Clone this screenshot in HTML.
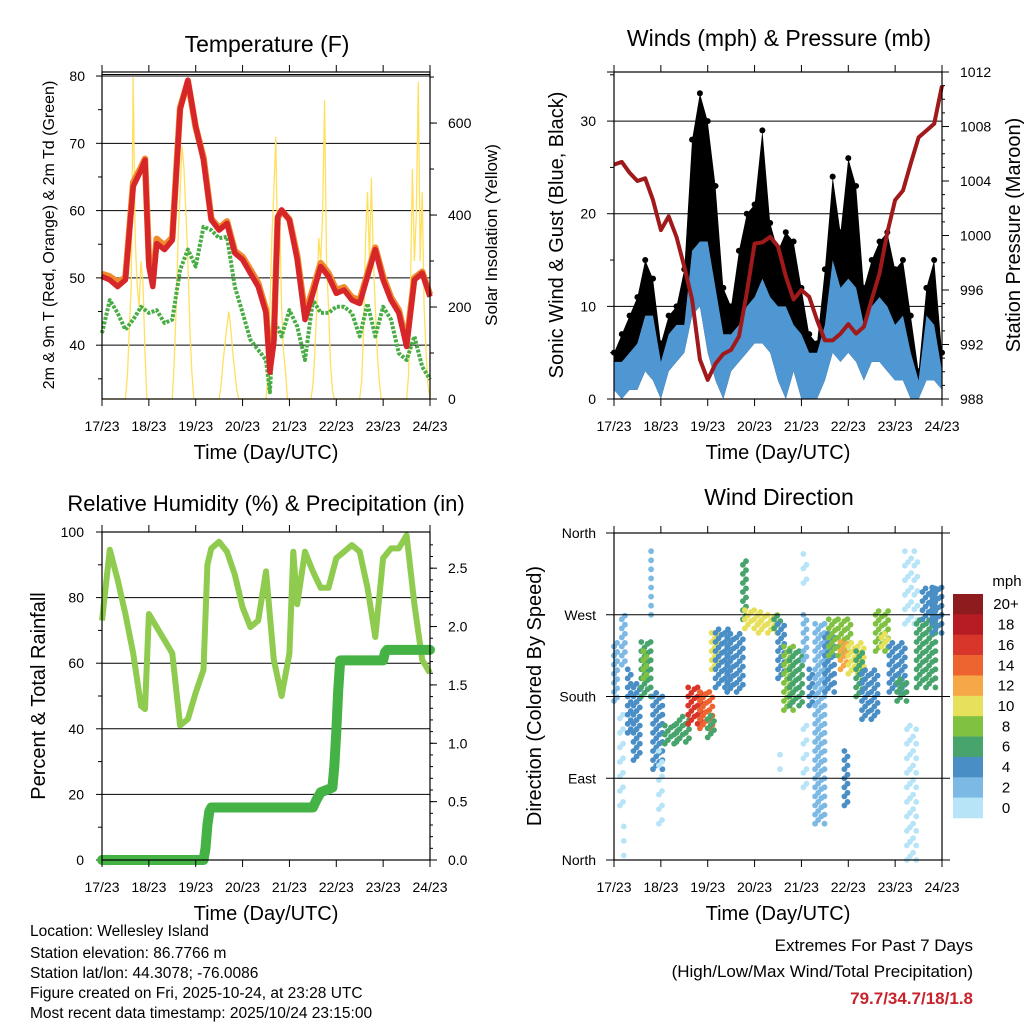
<!DOCTYPE html>
<html><head><meta charset="utf-8"><title>Wellesley Island Meteogram</title>
<style>
html,body{margin:0;padding:0;background:#fff;}
svg{display:block;font-family:"Liberation Sans",Arial,sans-serif;}
</style></head>
<body>
<svg id="chart" width="1024" height="1024" viewBox="0 0 1024 1024" xmlns="http://www.w3.org/2000/svg">
<rect x="0" y="0" width="1024" height="1024" fill="#fff"/>
<g id="g1"></g>
<g id="g2"></g>
<g id="g3"></g>
<g id="g4"></g>
<g font-size="15.5" fill="#000">
<text x="30" y="936">Location: Wellesley Island</text>
<text x="30" y="958">Station elevation: 86.7766 m</text>
<text x="30" y="978">Station lat/lon: 44.3078; -76.0086</text>
<text x="30" y="998">Figure created on Fri, 2025-10-24, at 23:28 UTC</text>
<text x="30" y="1018">Most recent data timestamp: 2025/10/24 23:15:00</text>
</g>
<g font-size="17" text-anchor="end">
<text x="973" y="951">Extremes For Past 7 Days</text>
<text x="973" y="977">(High/Low/Max Wind/Total Precipitation)</text>
<text x="973" y="1004" fill="#c8232c" font-weight="bold">79.7/34.7/18/1.8</text>
</g>
</svg>
<script>
// ---------- data ----------
const dayLabels = ["17/23","18/23","19/23","20/23","21/23","22/23","23/23","24/23"];
const tempHours = [0,4,8,12,16,20,22,24,26,28,32,36,40,44,48,52,56,60,64,68,72,76,80,84,86,88,90,92,96,100,104,108,112,116,120,124,128,132,136,140,144,148,152,156,160,164,168];
const temp2m = [50.2,49.7,48.7,49.7,63.6,66,67.5,51.7,48.7,55.1,54.2,55.6,75,79.4,72.5,67.5,58.6,57.1,58.1,53.7,52.7,50.7,48.7,44.8,36,40.3,59.1,60.1,58.6,52.7,43.8,47.7,51.7,50.2,47.7,48.2,46.7,46.2,50.2,54.2,49.7,46.7,44.8,39.8,49.7,50.7,47.2];
const temp9m = [50.6,50.2,49.4,50.0,64.2,66.4,67.7,52.6,49.4,55.8,54.8,56.0,75.3,79.2,72.4,67.9,58.8,57.4,58.4,54.0,53.1,51.2,49.2,45.3,37,41.0,58.9,60.0,58.7,53.3,44.6,48.3,52.2,50.7,48.2,48.6,47.1,46.7,50.6,54.5,50.2,47.1,45.2,40.4,50.0,50.9,47.5];
const dewHours = [0,4,8,12,16,20,24,28,32,36,40,44,48,52,56,60,64,68,72,76,80,84,86,88,92,96,100,104,108,112,116,120,124,128,132,136,140,144,148,152,156,160,164,168];
const dewValues = [41.8,46.7,44.8,42.3,43.8,45.7,44.8,45.2,43.3,43.8,51.2,54.2,51.7,57.6,57.1,55.9,56.1,48.7,44.8,40.8,39.3,37.8,33,43.8,41.3,45.2,42.8,37.8,46.7,44.8,44.8,45.7,45.7,44.8,41.3,46.2,41.3,45.7,43.8,38.8,37.8,41.3,36.8,34.9];
const solarHours = [0,12,13,14,15,16,17,18,19,20,21,22,23,36,37,38,39,40,41,42,43,44,45,46,47,60,61,62,63,64,65,66,67,68,69,70,84,85,86,87,88,89,90,91,92,93,94,95,107,108,109,110,111,112,113,114,115,116,117,118,119,132,133,134,135,136,137,138,139,140,141,142,143,156,157,158,159,160,161,162,163,164,165,166,167,168];
const solarValues = [0,0,50,150,250,700,350,250,200,300,250,100,0,0,80,200,350,450,550,500,400,300,150,60,0,0,30,80,120,160,190,150,100,60,20,0,0,50,200,350,450,570,300,400,200,100,60,0,0,30,100,200,350,300,400,650,300,200,80,20,0,0,40,150,350,450,300,480,300,200,100,40,0,0,50,250,500,300,400,690,300,450,200,100,30,0];

const windHours = [0,4,8,12,16,20,24,28,32,36,40,44,48,52,56,60,64,68,72,76,80,84,88,92,96,100,104,108,112,116,120,124,128,132,136,140,144,148,152,156,160,164,168];
const windLow = [1,0,1,1,3,2,0,3,4,5,9,10,5,2,0,3,4,5,6,6,5,2,0,3,0,0,0,2,5,4,5,4,2,4,4,3,2,2,0,0,2,2,1];
const windHigh = [4,4,5,6,9,9,4,7,8,8,16,17,17,12,7,7,8,10,11,13,11,10,10,8,7,5,5,8,15,12,13,12,8,10,11,10,8,9,5,2,9,8,3];
const gustHigh = [5,7,9,11,15,13,6,9,10,14,28,33,30,23,12,10,16,20,21,29,19,16,18,17,12,7,6,14,24,18,26,23,12,15,17,18,14,15,9,3,12,15,5];
const pressureValues = [1005.2,1005.4,1004.6,1004,1004.2,1002.6,1000.4,1001.4,999.9,997.7,995.3,990.9,989.4,990.6,991.3,991.6,992.6,995.8,999.4,999.5,999.9,999.2,997,995.3,996,995.5,993.8,992.3,992.3,992.8,993.5,992.8,993.3,995.3,997.2,1000.2,1002.6,1003.3,1005.3,1007.2,1007.7,1008.2,1011];

const rhHours = [0,4,8,12,16,20,22,24,28,32,36,40,44,48,52,54,56,60,64,68,72,76,80,84,88,92,96,98,100,104,108,112,116,120,124,128,132,136,140,144,148,152,156,160,164,168];
const rhValues = [73,94.6,85.5,75,63,47,46,75,71,67,63,41,43,51,58,90,95,97,94,87,77,71,73,88,61,50,63,94,78,94,88,83,83,92,94,96,94,83,68,92,95,95,99,78,61,57];
const rainHours = [0,52,53,54,55,56,108,110,112,118,119,120,121,122,144,145,146,168];
const rainValues = [0,0,0.1,0.3,0.42,0.45,0.45,0.52,0.58,0.62,0.8,1.1,1.45,1.71,1.71,1.78,1.8,1.8];

// wind direction clusters: start hour, end hour, low dir, high dir, speed
const dirStart = [0,0,3,4,5,7,10,14,15,19,20,23,26,32,38,44,48,50,52,58,66,67,74,82,84,85,87,90,97,97,97,100,103,103,108,110,116,118,120,124,127,134,137,141,145,149,150,155,158,163];
const dirEnd   = [3,3,6,6,6,10,14,20,18,20,26,26,33,40,45,52,52,54,60,66,68,76,84,86,88,86,92,97,100,100,100,103,108,108,113,122,120,121,128,128,135,141,141,150,150,156,156,165,165,168];
const dirLow   = [175,195,60,215,5,140,110,180,200,270,100,40,128,130,150,145,135,210,190,185,265,255,250,255,200,100,165,170,305,220,80,170,40,200,185,225,210,60,205,180,155,230,235,185,175,260,0,190,265,250];
const dirHigh  = [235,240,160,270,50,210,195,240,230,340,185,120,150,158,190,185,160,250,255,250,330,275,270,272,260,130,235,230,340,270,150,210,200,260,250,265,240,120,240,230,210,275,250,240,200,340,150,265,300,300];
const dirSpeed = [3,2,1,2,0,4,4,7,8,2,4,1,6,7,16,14,6,11,4,5,6,10,10,7,4,1,8,6,0,2,1,4,2,3,5,8,13,4,11,7,5,9,10,5,6,1,1,7,5,4];
const speedBins = ["20+","18","16","14","12","10","8","6","4","2","0"];
const binColors = ["#8e1b1e","#b71c24","#d9362b","#ee6431","#f6a849","#e7e05a","#80c142","#47a46d","#4a8ec6","#7cb9e4","#b8e4f8"];

// ---------- helpers ----------
const NS = "http://www.w3.org/2000/svg";
function mk(tag, attrs, parent){
  const e = document.createElementNS(NS, tag);
  for (const k in attrs) e.setAttribute(k, attrs[k]);
  parent.appendChild(e);
  return e;
}
function linear(d0,d1,r0,r1){ return v => r0 + (v-d0)*(r1-r0)/(d1-d0); }
function pathFrom(xs, ys, sx, sy){
  return xs.map((h,i)=>(i?"L":"M")+sx(h).toFixed(1)+","+sy(ys[i]).toFixed(1)).join(" ");
}

function frame(g, x0, x1, yT, yB){
  const r = mk("rect",{x:x0,y:yT,width:x1-x0,height:yB-yT,fill:"none",stroke:"#000","stroke-width":1.2},g);
  
  
  const sx = linear(0,168,x0,x1);
  dayLabels.forEach((lab,i)=>{
    const x = sx(i*24);
    const t1 = mk("line",{x1:x,x2:x,y1:yT-7,y2:yT,stroke:"#000","stroke-width":1},g);
    
    
    const t2 = mk("line",{x1:x,x2:x,y1:yB,y2:yB+7,stroke:"#000","stroke-width":1},g);
    
    
    const t = mk("text",{x:x,y:yB+32,"font-size":14,"text-anchor":"middle"},g);
    t.textContent = lab;
    
    
  });
  const xt = mk("text",{x:(x0+x1)/2,y:yB+60,"font-size":20,"text-anchor":"middle"},g);
  xt.textContent = "Time (Day/UTC)";
  
  
  return sx;
}
function title(g, x, y, txt, size){
  const t = mk("text",{x:x,y:y,"font-size":size,"text-anchor":"middle"},g);
  t.textContent = txt;
  
  
}
function vtitle(g, x, y, txt, size){
  const t = mk("text",{x:x,y:y,"font-size":size,"text-anchor":"middle",transform:"rotate(-90 "+x+" "+y+")"},g);
  t.textContent = txt;
  
  
}
function grid(g, x0, x1, y){
  const l = mk("line",{x1:x0,x2:x1,y1:y,y2:y,stroke:"#000","stroke-width":1},g);
  
  
}
function yLabel(g, x, y, txt, anchor){
  const t = mk("text",{x:x,y:y+5,"font-size":14,"text-anchor":anchor},g);
  t.textContent = txt;
  
  
}
function tick(g, x, y, len){
  const l = mk("line",{x1:x,x2:x+len,y1:y,y2:y,stroke:"#000","stroke-width":1},g);
  
  
}

// ---------- panel 1: temperature ----------
(function(){
  const g = document.getElementById("g1");
  const x0=102,x1=430,yT=72,yB=399;
  const sy = linear(32,80.6,yB,yT);
  const ss = linear(0,711,yB,yT);
  const sx = linear(0,168,x0,x1);
  [40,50,60,70,80].forEach(v=>{grid(g,x0,x1,sy(v)); yLabel(g,85,sy(v),String(v),"end"); tick(g,x0-6,sy(v),6);});
  [35,45,55,65,75].forEach(v=>tick(g,x0-4,sy(v),4));
  grid(g,x0,x1,74.5);
  [0,200,400,600].forEach(v=>{yLabel(g,448,ss(v),String(v),"start"); tick(g,x1,ss(v),7);});
  for(let v=100; v<=700; v+=100) tick(g,x1,ss(v),4);
  const sol = mk("path",{d:pathFrom(solarHours,solarValues,sx,ss),fill:"none",stroke:"#ffe05e","stroke-width":1.3},g);
  
  
  const dw = mk("path",{d:pathFrom(dewHours,dewValues,sx,sy),fill:"none",stroke:"#47ad44","stroke-width":4,"stroke-dasharray":"3 1.5","stroke-linejoin":"round"},g);
  
  
  const t9 = mk("path",{d:pathFrom(tempHours,temp9m,sx,sy),fill:"none",stroke:"#f08a2c","stroke-width":6.5,"stroke-linejoin":"round"},g);
  
  
  const t2 = mk("path",{d:pathFrom(tempHours,temp2m,sx,sy),fill:"none",stroke:"#d7262a","stroke-width":5.5,"stroke-linejoin":"round"},g);
  
  
  frame(g,x0,x1,yT,yB);
  title(g,267,52,"Temperature (F)",23);
  vtitle(g,54,235,"2m & 9m T (Red, Orange) & 2m Td (Green)",16);
  vtitle(g,497,235,"Solar Insolation (Yellow)",17);
})();

// ---------- panel 2: winds ----------
(function(){
  const g = document.getElementById("g2");
  const x0=614,x1=942,yT=72,yB=399;
  const sy = linear(0,35.3,yB,yT);
  const sp = linear(988,1012,yB,yT);
  const sx = linear(0,168,x0,x1);
  [10,20,30].forEach(v=>grid(g,x0,x1,sy(v)));
  [0,10,20,30].forEach(v=>{yLabel(g,596,sy(v),String(v),"end"); tick(g,x0-7,sy(v),7);});
  [5,15,25,35].forEach(v=>tick(g,x0-4,sy(v),4));
  grid(g,x0-7,x1+7,yT);
  [988,992,996,1000,1004,1008,1012].forEach(v=>{yLabel(g,960,sp(v),String(v),"start"); tick(g,x1,sp(v),7);});
  for(let v=989; v<1012; v++) if(v%4) tick(g,x1,sp(v),3);
  const topPts = windHours.map((h,i)=>sx(h).toFixed(1)+","+sy(gustHigh[i]).toFixed(1));
  const botPts = windHours.map((h,i)=>sx(h).toFixed(1)+","+sy(windLow[i]).toFixed(1)).reverse();
  const ga = mk("polygon",{points:topPts.concat(botPts).join(" "),fill:"#000"},g);
  
  
  windHours.forEach((h,i)=>{
    const c = mk("circle",{cx:sx(h),cy:sy(gustHigh[i]),r:3,fill:"#000"},g);
    
    
  });
  const hiPts = windHours.map((h,i)=>sx(h).toFixed(1)+","+sy(windHigh[i]).toFixed(1));
  const wa = mk("polygon",{points:hiPts.concat(botPts).join(" "),fill:"#4f97d3"},g);
  
  
  const pl = mk("path",{d:pathFrom(windHours,pressureValues,sx,sp),fill:"none",stroke:"#a01a1c","stroke-width":4,"stroke-linejoin":"round"},g);
  
  
  frame(g,x0,x1,yT,yB);
  title(g,779,46,"Winds (mph) & Pressure (mb)",23);
  vtitle(g,563,235,"Sonic Wind & Gust (Blue, Black)",20);
  vtitle(g,1020,235,"Station Pressure (Maroon)",20);
})();

// ---------- panel 3: humidity & precipitation ----------
(function(){
  const g = document.getElementById("g3");
  const x0=102,x1=430,yT=532,yB=860;
  const sy = linear(0,100,yB,yT);
  const sr = linear(0,2.81,yB,yT);
  const sx = linear(0,168,x0,x1);
  [20,40,60,80,100].forEach(v=>grid(g,x0,x1,sy(v)));
  [0,20,40,60,80,100].forEach(v=>{yLabel(g,84,sy(v),String(v),"end"); tick(g,x0-6,sy(v),6);});
  [10,30,50,70,90].forEach(v=>tick(g,x0-4,sy(v),4));
  [0,0.5,1,1.5,2,2.5].forEach(v=>{yLabel(g,448,sr(v),v.toFixed(1),"start"); tick(g,x1,sr(v),7);});
  for(let v=0.1; v<2.8; v+=0.1) tick(g,x1,sr(v),3);
  const rh = mk("path",{d:pathFrom(rhHours,rhValues,sx,sy),fill:"none",stroke:"#8fcb4e","stroke-width":6,"stroke-linejoin":"round"},g);
  
  
  const rn = mk("path",{d:pathFrom(rainHours,rainValues,sx,sr),fill:"none",stroke:"#45b245","stroke-width":10,"stroke-linejoin":"round","stroke-linecap":"round"},g);
  
  
  frame(g,x0,x1,yT,yB);
  title(g,266,511,"Relative Humidity (%) & Precipitation (in)",22);
  vtitle(g,45,696,"Percent & Total Rainfall",20);
})();

// ---------- panel 4: wind direction ----------
(function(){
  const g = document.getElementById("g4");
  const x0=614,x1=942,yT=533,yB=860;
  const sy = linear(0,360,yB,yT);
  const sx = linear(0,168,x0,x1);
  function colorFor(s){ let b = Math.min(10, Math.floor(s/2)); return binColors[10-b]; }
  dirStart.forEach((h0,i)=>{
    const h1 = dirEnd[i], lo = dirLow[i], hi = dirHigh[i], col = colorFor(dirSpeed[i]);
    const thin = dirSpeed[i] < 2;
    let k = 0;
    for(let h=h0; h<=h1; h+=1.6){
      const off = (k%3)*4;
      for(let d=lo+off; d<=hi; d+=(thin?16:10)){
        const c = mk("circle",{cx:sx(h).toFixed(1),cy:sy(d).toFixed(1),r:2.9,fill:col},g);
        
        
      }
      k++;
    }
  });
  const names = ["North","East","South","West","North"];
  [0,90,180,270,360].forEach((v,i)=>{grid(g,606,950,sy(v)); yLabel(g,596,sy(v),names[i],"end");});
  frame(g,x0,x1,yT,yB);
  title(g,779,505,"Wind Direction",23);
  vtitle(g,541,696,"Direction (Colored By Speed)",20);
  const cbTop=594, cbH=224/11;
  speedBins.forEach((lab,i)=>{
    const r = mk("rect",{x:953,y:cbTop+i*cbH,width:30,height:cbH+0.3,fill:binColors[i]},g);
    
    
    const t = mk("text",{x:1006,y:cbTop+i*cbH+cbH/2+5,"font-size":15,"text-anchor":"middle"},g);
    t.textContent = lab;
    
    
  });
  const u = mk("text",{x:1007,y:586,"font-size":15,"text-anchor":"middle"},g);
  u.textContent = "mph";
  
  
})();
</script>
</body></html>
